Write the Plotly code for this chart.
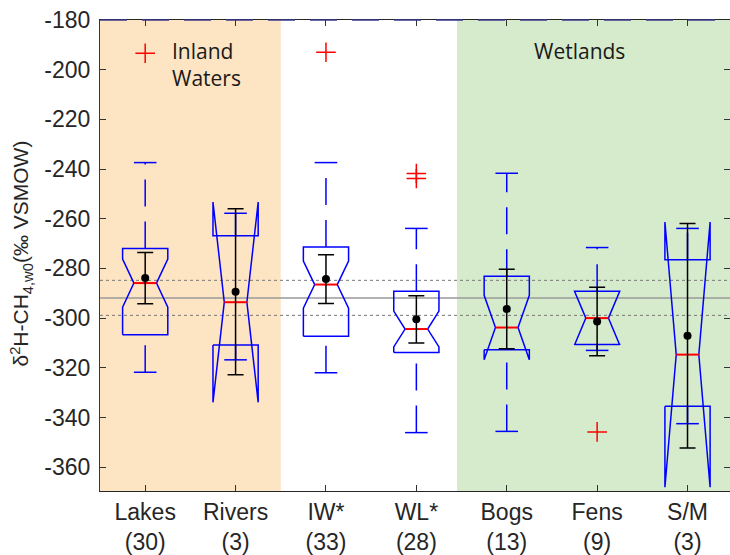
import plotly.graph_objects as go

# ---------------- data ----------------
categories = ["Lakes", "Rivers", "IW*", "WL*", "Bogs", "Fens", "S/M"]
counts = [30, 3, 33, 28, 13, 9, 3]
q1 = [-306.7, -310.8, -307.3, -313.8, -312.7, -310.6, -335.5]
median = [-285.9, -293.6, -286.5, -304.4, -303.8, -300.0, -314.7]
q3 = [-272.0, -266.8, -271.4, -289.2, -283.2, -289.2, -276.5]
notch_half = [9.7, 40.3, 9.5, 7.2, 13.0, 10.8, 53.4]
whisker_lo = [-321.8, -316.8, -322.0, -346.1, -345.6, -313.0, -342.5]
whisker_hi = [-237.4, -257.8, -237.4, -263.9, -241.7, -271.6, -263.9]
mean = [-283.9, -289.4, -284.3, -300.5, -296.3, -301.4, -307.1]
mean_err = [10.3, 33.4, 9.8, 9.5, 16.0, 13.8, 45.2]
outlier_cat = ["Lakes", "IW*", "WL*", "WL*", "Fens"]
outlier_val = [-193.4, -193.0, -241.8, -243.8, -345.8]
ref_center = -291.9
ref_lo = -298.9
ref_hi = -284.8
ytick_vals = [-360, -340, -320, -300, -280, -260, -240, -220, -200, -180]

# ---------------- styling ----------------
BOX_HW = 0.25
NOTCH_HW = 0.125
CAP_HW = 0.125
BLUE = "#0000FF"
RED = "#FF0000"
ORANGE_BG = "#FDE4C3"
GREEN_BG = "#D6EBCB"
TXT = "#262626"

pos = list(range(1, len(categories) + 1))
xpos = {c: p for c, p in zip(categories, pos)}

box_x, box_y = [], []
wh_x, wh_y = [], []
cap_x, cap_y = [], []
med_x, med_y = [], []
for p, a, m, b, n, wl, wh in zip(pos, q1, median, q3, notch_half, whisker_lo, whisker_hi):
    nlo, nhi = m - n, m + n
    box_x += [p - BOX_HW, p - BOX_HW, p - NOTCH_HW, p - BOX_HW, p - BOX_HW,
              p + BOX_HW, p + BOX_HW, p + NOTCH_HW, p + BOX_HW, p + BOX_HW, p - BOX_HW, None]
    box_y += [a, nlo, m, nhi, b, b, nhi, m, nlo, a, a, None]
    # whiskers drawn from lower value upward
    wh_x += [p, p, None, p, p, None]
    wh_y += [wl, a, None, b, wh, None]
    cap_x += [p - CAP_HW, p + CAP_HW, None, p - CAP_HW, p + CAP_HW, None]
    cap_y += [wl, wl, None, wh, wh, None]
    med_x += [p - NOTCH_HW, p + NOTCH_HW, None]
    med_y += [m, m, None]

fig = go.Figure()
fig.add_trace(go.Scatter(x=wh_x, y=wh_y, mode="lines",
                         line=dict(color=BLUE, width=1.5, dash="27px,15px"),
                         hoverinfo="skip", showlegend=False))
fig.add_trace(go.Scatter(x=cap_x, y=cap_y, mode="lines",
                         line=dict(color=BLUE, width=1.5),
                         hoverinfo="skip", showlegend=False))
fig.add_trace(go.Scatter(x=box_x, y=box_y, mode="lines",
                         line=dict(color=BLUE, width=1.5),
                         hoverinfo="skip", showlegend=False))
fig.add_trace(go.Scatter(x=med_x, y=med_y, mode="lines",
                         line=dict(color=RED, width=2),
                         hoverinfo="skip", showlegend=False))
fig.add_trace(go.Scatter(x=pos, y=mean, mode="markers",
                         marker=dict(color="black", size=8),
                         error_y=dict(type="data", array=mean_err, color="black",
                                      thickness=1.5, width=8),
                         showlegend=False))
fig.add_trace(go.Scatter(x=[xpos[c] for c in outlier_cat], y=outlier_val, mode="markers",
                         marker=dict(symbol="cross-thin", size=14,
                                     line=dict(color=RED, width=1.5)),
                         showlegend=False))

# background bands
fig.add_shape(type="rect", xref="x", yref="paper", x0=0.5, x1=2.5, y0=0, y1=1,
              fillcolor=ORANGE_BG, line_width=0, layer="below")
fig.add_shape(type="rect", xref="x", yref="paper", x0=4.45, x1=7.6, y0=0, y1=1,
              fillcolor=GREEN_BG, line_width=0, layer="below")
# reference lines
fig.add_shape(type="line", xref="paper", yref="y", x0=0, x1=1, y0=ref_center, y1=ref_center,
              line=dict(color="#9A9A9A", width=1.5), layer="below")
for v in (ref_lo, ref_hi):
    fig.add_shape(type="line", xref="paper", yref="y", x0=0, x1=1, y0=v, y1=v,
                  line=dict(color="#777777", width=1, dash="3px,3px"), layer="below")
# dashed navy overlay on top border
fig.add_shape(type="line", xref="paper", yref="paper", x0=0, x1=1, y0=1, y1=1,
              line=dict(color="#3A3A8C", width=1.5, dash="27px,15px"))

fig.add_annotation(x=1.27, y=-198.0, xref="x", yref="y", text="Inland<br>Waters",
                   showarrow=False, xanchor="left", yanchor="middle", align="left",
                   font=dict(family="Open Sans", size=21, color="#1A1A1A"))
fig.add_annotation(x=5.80, y=-192.3, xref="x", yref="y", text="Wetlands",
                   showarrow=False, xanchor="center", yanchor="middle",
                   font=dict(family="Open Sans", size=21, color="#1A1A1A"))
fig.add_annotation(x=0, y=0.5, xref="paper", yref="paper", xshift=-79, yshift=2,
                   text="δ<sup>2</sup>H-CH<sub>4,w0</sub>(‰ VSMOW)", textangle=-90,
                   showarrow=False, xanchor="center", yanchor="middle",
                   font=dict(family="Liberation Sans", size=21, color=TXT))

fig.update_xaxes(range=[0.5, 7.47], tickvals=pos,
                 ticktext=[f"{c}<br>({n})" for c, n in zip(categories, counts)],
                 ticks="inside", ticklen=6, tickcolor="#333333",
                 showline=True, linecolor="#262626", linewidth=1.2, mirror="ticks",
                 showgrid=False, zeroline=False,
                 tickfont=dict(family="Liberation Sans", size=23, color=TXT))
fig.update_yaxes(range=[-369.6, -180], tickvals=ytick_vals,
                 ticktext=[str(v) for v in ytick_vals],
                 ticks="inside", ticklen=6, tickcolor="#333333",
                 showline=True, linecolor="#2E2E7A", linewidth=1.2, mirror="ticks",
                 showgrid=False, zeroline=False, ticklabelstandoff=4,
                 tickfont=dict(family="Liberation Sans", size=23, color=TXT))
fig.update_layout(width=730, height=555, margin=dict(l=100, r=0, t=20, b=64),
                  plot_bgcolor="white", paper_bgcolor="white", showlegend=False)

fig.write_html("out.html", config={"displayModeBar": False},
               post_script="document.body.style.margin='0';")
